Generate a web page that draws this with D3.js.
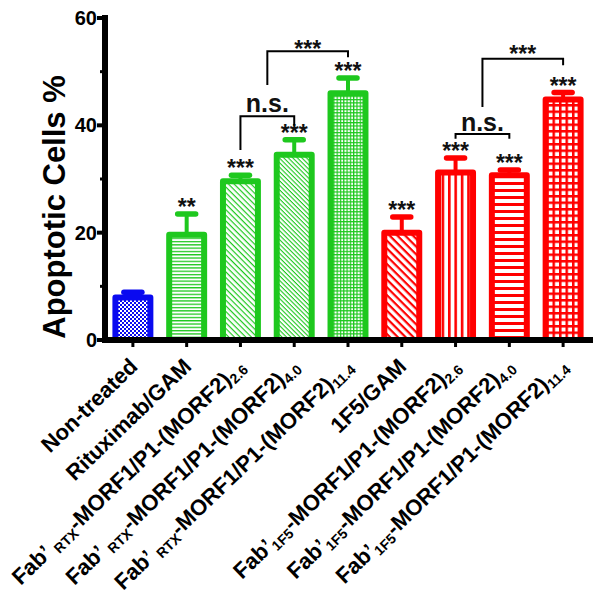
<!DOCTYPE html>
<html>
<head>
<meta charset="utf-8">
<script src="https://cdn.jsdelivr.net/npm/d3@7"></script>
<style>
  html, body { margin: 0; padding: 0; background: #fff; }
  svg { display: block; }
  text { font-family: "Liberation Sans", Arial, sans-serif; }
</style>
</head>
<body>
<script>
// ---------- data ----------
const categories = ["Non-treated", "Rituximab/GAM", "RTX-2.6", "RTX-4.0", "RTX-11.4",
                    "1F5/GAM", "1F5-2.6", "1F5-4.0", "1F5-11.4"];
// label pieces: [text, isSubscript]
const labelParts = [
  [["Non-treated", false]],
  [["Rituximab/GAM", false]],
  [["Fab\u2019 ", false], ["RTX", true], ["-MORF1/P1-(MORF2)", false], ["2.6", true]],
  [["Fab\u2019 ", false], ["RTX", true], ["-MORF1/P1-(MORF2)", false], ["4.0", true]],
  [["Fab\u2019 ", false], ["RTX", true], ["-MORF1/P1-(MORF2)", false], ["11.4", true]],
  [["1F5/GAM", false]],
  [["Fab\u2019", false], ["1F5", true], ["-MORF1/P1-(MORF2)", false], ["2.6", true]],
  [["Fab\u2019", false], ["1F5", true], ["-MORF1/P1-(MORF2)", false], ["4.0", true]],
  [["Fab\u2019", false], ["1F5", true], ["-MORF1/P1-(MORF2)", false], ["11.4", true]]
];
const values = [7.9, 19.6, 29.6, 34.5, 46.0, 20.0, 31.2, 30.7, 44.8];
const errors = [1.0, 3.9, 1.1, 2.8, 2.8, 2.9, 2.7, 1.0, 1.3];
const stars  = ["", "**", "***", "***", "***", "***", "***", "***", "***"];
const majorTicks = [0, 20, 40, 60];
const minorTicks = [10, 30, 50];
// comparison brackets: between category indexes (fractional = midpoint), in data units
const brackets = [
  { from: 2,   to: 3, y: 41.7, leftEnd: 35.4, rightEnd: 39.9, label: "n.s.", labelY: 44.2 },
  { from: 2.5, to: 4, y: 53.8, leftEnd: 47.5, rightEnd: 52.7, label: "***",  labelY: 55.2 },
  { from: 6,   to: 7, y: 38.4, leftEnd: 37.5, rightEnd: 37.5, label: "n.s.", labelY: 40.6 },
  { from: 6.5, to: 8, y: 52.4, leftEnd: 43.4, rightEnd: 51.2, label: "***",  labelY: 54.2 }
];

// ---------- styles ----------
const BLUE = "#0a0af0", GREEN = "#1ec81e", RED = "#ff0000";
const barColor = i => i === 0 ? BLUE : (i <= 4 ? GREEN : RED);

const W = 604, H = 608;
const svg = d3.select("body").append("svg").attr("width", W).attr("height", H);

const x = d3.scaleBand().domain(categories).range([106, 590]).paddingInner(0.35).paddingOuter(0.175);
const y = d3.scaleLinear().domain([0, 60]).range([340, 18]);
const cx = i => x(categories[i]) + x.bandwidth() / 2;
const cxf = f => { const a = Math.floor(f), b = Math.ceil(f); return a === b ? cx(a) : (cx(a) + cx(b)) / 2; };

// ---------- patterns ----------
const defs = svg.append("defs");
function pat(id, w, h, draw, rot) {
  const p = defs.append("pattern").attr("id", id).attr("patternUnits", "userSpaceOnUse")
    .attr("width", w).attr("height", h);
  if (rot) p.attr("patternTransform", `rotate(${rot})`);
  p.append("rect").attr("width", w).attr("height", h).attr("fill", "#fff");
  draw(p);
}
pat("p0", 4, 4, p => {
  p.append("rect").attr("x", 0).attr("y", 0).attr("width", 2).attr("height", 2).attr("fill", BLUE);
  p.append("rect").attr("x", 2).attr("y", 2).attr("width", 2).attr("height", 2).attr("fill", BLUE);
});
pat("p1", 10, 3.3, p => p.append("rect").attr("width", 10).attr("height", 1.3).attr("fill", GREEN));
pat("p2", 10, 4, p => p.append("rect").attr("width", 10).attr("height", 1.2).attr("fill", GREEN), 45);
pat("p3", 10, 3.2, p => p.append("rect").attr("width", 10).attr("height", 1.1).attr("fill", GREEN), 45);
pat("p4", 3.3, 3.3, p => {
  p.append("rect").attr("width", 3.3).attr("height", 1.2).attr("fill", GREEN);
  p.append("rect").attr("width", 1.2).attr("height", 3.3).attr("fill", GREEN);
});
pat("p5", 10, 5.5, p => p.append("rect").attr("width", 10).attr("height", 2.2).attr("fill", RED), 45);
pat("p6", 6.4, 10, p => p.append("rect").attr("width", 2.6).attr("height", 10).attr("fill", RED));
pat("p7", 10, 7, p => p.append("rect").attr("width", 10).attr("height", 3).attr("fill", RED));
pat("p8", 6.5, 6.5, p => {
  p.append("rect").attr("width", 6.5).attr("height", 2.5).attr("fill", RED);
  p.append("rect").attr("width", 2.5).attr("height", 6.5).attr("fill", RED);
});

// ---------- bars ----------
const SW = 6;
const g = svg.append("g");
categories.forEach((c, i) => {
  const col = barColor(i);
  const bx = x(c), bw = x.bandwidth();
  g.append("line").attr("x1", cx(i)).attr("x2", cx(i))
    .attr("y1", y(values[i])).attr("y2", y(values[i] + errors[i]))
    .attr("stroke", col).attr("stroke-width", 4);
  g.append("line").attr("x1", cx(i) - 9).attr("x2", cx(i) + 9)
    .attr("y1", y(values[i] + errors[i])).attr("y2", y(values[i] + errors[i]))
    .attr("stroke", col).attr("stroke-width", 5.5).attr("stroke-linecap", "round");
  g.append("rect").attr("x", bx).attr("width", bw)
    .attr("y", y(values[i])).attr("height", y(0) - y(values[i]))
    .attr("fill", `url(#p${i})`).attr("stroke", col).attr("stroke-width", SW)
    .attr("stroke-linejoin", "round");
  if (stars[i]) {
    const cyS = y(values[i] + errors[i]) - 12;
    g.append("text").attr("x", cx(i)).attr("y", cyS + 0.57 * 23)
      .attr("text-anchor", "middle").attr("font-size", 23).attr("font-weight", "bold")
      .attr("fill", "#111").text(stars[i]);
  }
});

// ---------- axes ----------
const ax = svg.append("g");
ax.append("line").attr("x1", 105).attr("x2", 105).attr("y1", y(60) - 3).attr("y2", y(0) + 3)
  .attr("stroke", "#000").attr("stroke-width", 6);
ax.append("line").attr("x1", 102).attr("x2", 593).attr("y1", y(0)).attr("y2", y(0))
  .attr("stroke", "#000").attr("stroke-width", 6);
majorTicks.forEach(t => {
  ax.append("line").attr("x1", 97).attr("x2", 105).attr("y1", y(t)).attr("y2", y(t))
    .attr("stroke", "#000").attr("stroke-width", 4);
  ax.append("text").attr("x", 97).attr("y", y(t) + 7).attr("text-anchor", "end")
    .attr("font-size", 20).attr("font-weight", "bold").text(t);
});
minorTicks.forEach(t => {
  ax.append("line").attr("x1", 100).attr("x2", 105).attr("y1", y(t)).attr("y2", y(t))
    .attr("stroke", "#000").attr("stroke-width", 3);
});
categories.forEach((c, i) => {
  ax.append("line").attr("x1", cx(i)).attr("x2", cx(i)).attr("y1", y(0)).attr("y2", y(0) + 7)
    .attr("stroke", "#000").attr("stroke-width", 3);
});

// y label
svg.append("text").attr("transform", "translate(65,207) rotate(-90)")
  .attr("text-anchor", "middle").attr("font-size", 31).attr("font-weight", "bold")
  .text("Apoptotic Cells %");

// x labels
labelParts.forEach((parts, i) => {
  const t = svg.append("text")
    .attr("transform", `translate(${cx(i) + 6},368) rotate(-44)`)
    .attr("text-anchor", "end").attr("font-size", 22).attr("font-weight", "bold");
  let shifted = false;
  parts.forEach(([s, sub]) => {
    const ts = t.append("tspan").text(s);
    if (sub) { ts.attr("font-size", 14).attr("dy", shifted ? 0 : 4); shifted = true; }
    else { ts.attr("dy", shifted ? -4 : 0); shifted = false; }
  });
});

// brackets
brackets.forEach(b => {
  const x1 = cxf(b.from), x2 = cxf(b.to);
  svg.append("path")
    .attr("d", `M${x1},${y(b.leftEnd)}V${y(b.y)}H${x2}V${y(b.rightEnd)}`)
    .attr("fill", "none").attr("stroke", "#000").attr("stroke-width", 2);
  const isStars = b.label.startsWith("*");
  svg.append("text").attr("x", (x1 + x2) / 2)
    .attr("y", y(b.labelY) + (isStars ? 0.57 * 23 : 9))
    .attr("text-anchor", "middle")
    .attr("font-size", isStars ? 23 : 25).attr("font-weight", "bold")
    .attr("fill", "#111").text(b.label);
});
</script>
</body>
</html>
